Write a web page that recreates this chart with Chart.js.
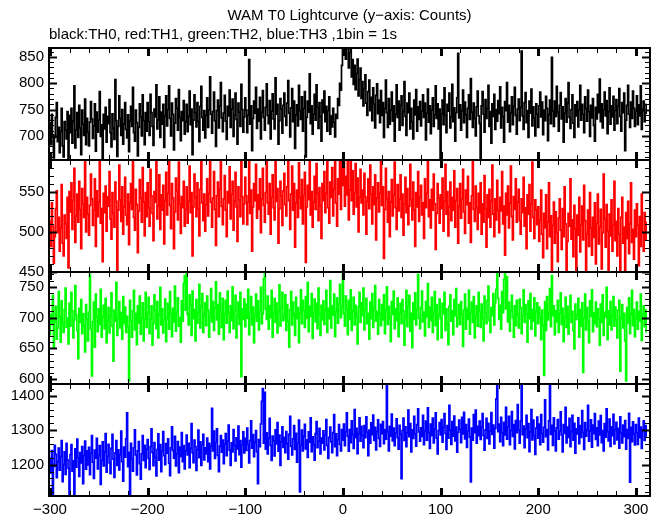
<!DOCTYPE html>
<html>
<head>
<meta charset="utf-8">
<script src="https://cdn.jsdelivr.net/npm/chart.js@4.4.1/dist/chart.umd.min.js"></script>
<style>
  html, body { margin: 0; padding: 0; background: #fff; }
  #wrap { width: 661px; height: 515px; }
</style>
</head>
<body>
<div id="wrap"><canvas id="lcChart" width="661" height="515"></canvas></div>
<script>
// WAM T0 lightcurve, 1 s bins, first bin at T0 - 300 s
const binStart = -300;

// TH0 (black)
const th0Counts = [
  724, 683, 741, 702, 658, 697, 735, 763, 689, 716, 668, 709, 752, 681, 660, 727, 711, 694, 746, 655,
  739, 706, 752, 686, 728, 795, 677, 711, 744, 697, 758, 715, 664, 749, 722, 701, 770, 683, 733, 707,
  681, 726, 765, 732, 695, 719, 761, 671, 745, 707, 730, 784, 699, 721, 652, 741, 713, 754, 688, 737,
  723, 769, 706, 679, 742, 714, 693, 807, 729, 661, 718, 776, 733, 701, 750, 684, 722, 763, 712, 696,
  740, 670, 728, 756, 718, 792, 706, 690, 749, 725, 662, 716, 761, 736, 700, 778, 729, 683, 744, 709,
  763, 727, 701, 779, 744, 718, 682, 751, 736, 797, 713, 730, 774, 697, 745, 722, 760, 678, 738, 776,
  719, 750, 795, 733, 700, 762, 741, 673, 724, 771, 752, 711, 788, 735, 691, 746, 729, 767, 703, 727,
  760, 708, 737, 785, 721, 751, 664, 730, 778, 744, 717, 763, 727, 689, 756, 794, 735, 711, 748, 696,
  739, 772, 716, 749, 812, 741, 705, 746, 783, 729, 680, 748, 768, 715, 757, 801, 734, 708, 743, 777,
  728, 693, 756, 738, 787, 716, 751, 770, 699, 740, 781, 731, 684, 762, 745, 718, 798, 750, 707, 736,
  772, 749, 706, 739, 845, 722, 757, 672, 733, 766, 743, 792, 714, 751, 728, 773, 694, 745, 786, 735,
  711, 754, 799, 739, 723, 767, 694, 747, 780, 732, 713, 810, 741, 760, 684, 729, 771, 751, 705, 758,
  781, 737, 720, 762, 805, 743, 698, 753, 790, 727, 766, 676, 740, 759, 719, 796, 748, 731, 774, 709,
  752, 784, 660, 735, 766, 745, 818, 723, 757, 703, 741, 779, 730, 797, 754, 714, 763, 737, 690, 768,
  744, 785, 727, 756, 709, 748, 774, 703, 738, 717, 752, 726, 698, 741, 733, 771, 758, 800, 787, 834,
  884, 861, 898, 846, 877, 892, 829, 858, 871, 812, 845, 798, 834, 788, 819, 846, 776, 807, 829, 771,
  803, 757, 790, 816, 762, 739, 784, 806, 748, 773, 729, 791, 760, 715, 777, 799, 742, 768, 725, 786,
  739, 763, 697, 752, 806, 744, 716, 771, 722, 749, 783, 728, 757, 690, 741, 797, 735, 766, 711, 758,
  776, 720, 746, 803, 737, 701, 762, 744, 781, 713, 752, 727, 694, 768, 740, 788, 709, 755, 731, 765,
  719, 747, 778, 735, 762, 692, 743, 789, 726, 757, 704, 749, 772, 718, 740, 795, 733, 761, 713, 751,
  652, 742, 768, 721, 791, 739, 706, 760, 747, 781, 715, 736, 798, 727, 753, 690, 744, 772, 857, 734,
  759, 711, 748, 787, 725, 764, 740, 697, 752, 778, 731, 809, 745, 716, 762, 733, 700, 755, 785, 738,
  723, 649, 757, 784, 741, 707, 769, 733, 752, 796, 718, 746, 686, 761, 737, 779, 712, 750, 728, 767,
  742, 793, 715, 754, 736, 688, 765, 748, 801, 726, 758, 708, 743, 774, 721, 756, 792, 739, 703, 751,
  770, 729, 754, 861, 738, 712, 763, 782, 725, 748, 697, 766, 743, 789, 719, 755, 734, 700, 761, 741,
  716, 757, 783, 736, 764, 702, 749, 729, 775, 752, 691, 740, 768, 723, 849, 747, 718, 766, 737, 794,
  745, 709, 758, 782, 732, 755, 688, 743, 771, 726, 762, 801, 735, 714, 750, 778, 724, 697, 759, 738,
  765, 717, 749, 796, 730, 760, 741, 706, 774, 752, 728, 787, 746, 699, 758, 734, 771, 720, 690, 754,
  732, 779, 744, 808, 727, 761, 715, 750, 783, 738, 767, 704, 746, 791, 722, 757, 736, 775, 711, 748,
  769, 723, 756, 790, 737, 709, 763, 744, 781, 672, 730, 758, 796, 741, 716, 764, 733, 785, 752, 718,
  747, 776, 721, 759, 738, 795, 712, 750, 766, 727, 743, 760
];

// TH1 (red)
const th1Counts = [
  513, 482, 536, 507, 461, 494, 529, 551, 499, 518, 476, 505, 559, 486, 470, 521, 510, 492, 543, 455,
  550, 525, 561, 503, 539, 579, 487, 520, 547, 512, 563, 528, 479, 554, 535, 518, 588, 500, 543, 522,
  496, 533, 572, 541, 508, 527, 566, 482, 551, 519, 537, 590, 511, 529, 463, 548, 524, 557, 501, 544,
  532, 575, 516, 491, 549, 523, 506, 562, 538, 450, 527, 583, 540, 513, 556, 497, 531, 568, 521, 509,
  547, 484, 536, 560, 528, 593, 518, 502, 553, 534, 474, 526, 565, 542, 512, 580, 537, 495, 549, 519,
  561, 530, 507, 578, 545, 523, 489, 550, 537, 596, 516, 532, 571, 503, 546, 527, 558, 485, 539, 574,
  521, 548, 595, 533, 504, 560, 542, 479, 525, 567, 551, 515, 587, 535, 498, 544, 530, 563, 507, 528,
  556, 511, 538, 582, 524, 549, 470, 531, 572, 543, 519, 561, 529, 495, 553, 590, 536, 514, 547, 501,
  534, 566, 520, 548, 591, 537, 506, 542, 575, 528, 483, 545, 562, 519, 553, 598, 532, 509, 541, 570,
  527, 494, 550, 536, 581, 516, 547, 563, 502, 538, 574, 531, 488, 556, 540, 519, 589, 544, 510, 535,
  568, 545, 509, 537, 593, 523, 552, 476, 531, 560, 539, 584, 517, 546, 528, 566, 499, 541, 579, 533,
  512, 549, 588, 536, 522, 560, 497, 543, 571, 530, 515, 597, 538, 554, 486, 529, 563, 545, 508, 551,
  573, 534, 520, 556, 600, 539, 503, 547, 582, 527, 560, 481, 536, 552, 518, 586, 543, 529, 565, 510,
  545, 574, 462, 531, 558, 540, 597, 521, 550, 506, 537, 569, 528, 585, 548, 514, 555, 533, 492, 560,
  539, 575, 524, 548, 594, 530, 511, 562, 543, 580, 520, 553, 599, 536, 507, 566, 547, 590, 528, 604,
  558, 601, 532, 569, 546, 596, 515, 552, 607, 539, 576, 522, 549, 585, 531, 567, 500, 543, 578, 536,
  552, 521, 573, 544, 497, 538, 566, 529, 583, 547, 510, 556, 534, 571, 490, 542, 561, 525, 548, 598,
  533, 556, 467, 528, 579, 541, 512, 550, 494, 537, 565, 520, 546, 587, 530, 503, 559, 526, 541, 571,
  518, 547, 496, 535, 568, 524, 554, 509, 532, 584, 540, 515, 562, 527, 482, 549, 531, 575, 513, 543,
  558, 521, 536, 492, 566, 530, 548, 589, 519, 540, 505, 553, 527, 572, 535, 478, 523, 560, 542, 511,
  546, 529, 567, 501, 538, 584, 522, 550, 495, 531, 562, 514, 543, 527, 576, 506, 539, 554, 486, 532,
  560, 517, 541, 578, 525, 498, 552, 534, 569, 511, 536, 487, 545, 592, 528, 513, 557, 530, 503, 548,
  524, 561, 497, 535, 512, 570, 529, 481, 546, 518, 553, 506, 538, 583, 522, 494, 541, 515, 564, 527,
  499, 543, 526, 575, 510, 532, 471, 548, 521, 557, 505, 536, 582, 519, 490, 544, 528, 566, 512, 537,
  553, 514, 497, 541, 524, 568, 507, 530, 479, 546, 522, 559, 501, 535, 587, 518, 492, 540, 527, 509,
  531, 488, 515, 552, 497, 468, 523, 505, 546, 479, 512, 561, 494, 520, 447, 508, 537, 486, 525, 499,
  463, 517, 541, 502, 478, 529, 494, 556, 510, 452, 488, 523, 507, 566, 491, 515, 469, 533, 504, 448,
  521, 496, 543, 475, 509, 532, 490, 558, 514, 444, 497, 527, 482, 549, 505, 471, 518, 493, 536, 460,
  511, 547, 485, 506, 528, 454, 499, 572, 516, 481, 534, 501, 445, 522, 495, 540, 476, 508, 563, 489,
  513, 470, 529, 497, 451, 518, 543, 486, 506, 449, 524, 492, 538, 473, 510, 561, 487, 503, 466, 527,
  494, 535, 508, 458, 519, 482, 547, 500, 476, 524, 491, 512
];

// TH2 (green)
const th2Counts = [
  672, 705, 689, 736, 651, 694, 718, 665, 683, 742, 701, 660, 727, 690, 676, 713, 748, 684, 699, 657,
  723, 686, 741, 711, 667, 696, 752, 704, 679, 633, 715, 692, 729, 674, 706, 687, 644, 721, 698, 662,
  709, 770, 681, 605, 693, 725, 652, 738, 700, 677, 714, 689, 746, 668, 701, 720, 682, 731, 659, 695,
  716, 675, 703, 740, 686, 629, 712, 694, 757, 671, 699, 726, 683, 708, 665, 734, 690, 717, 676, 702,
  685, 597, 728, 695, 668, 711, 744, 680, 707, 656, 719, 691, 735, 673, 700, 724, 662, 697, 741, 684,
  706, 733, 674, 698, 719, 655, 690, 737, 711, 682, 726, 667, 704, 749, 688, 714, 675, 696, 730, 661,
  699, 723, 681, 742, 706, 669, 715, 693, 751, 678, 710, 732, 686, 700, 660, 727, 694, 755, 768, 712,
  771, 705, 688, 737, 720, 671, 743, 698, 713, 662, 729, 691, 708, 754, 683, 717, 739, 676, 702, 724,
  687, 735, 712, 668, 701, 747, 693, 726, 679, 715, 758, 696, 721, 673, 740, 709, 684, 731, 664, 705,
  728, 691, 743, 707, 676, 719, 695, 750, 682, 711, 736, 667, 702, 725, 689, 741, 604, 714, 697, 730,
  685, 722, 699, 746, 672, 709, 734, 688, 717, 659, 703, 738, 694, 727, 680, 712, 749, 690, 706, 763,
  772, 714, 697, 735, 681, 719, 700, 744, 668, 708, 731, 692, 724, 675, 710, 753, 686, 716, 741, 695,
  703, 737, 679, 721, 694, 652, 713, 742, 688, 725, 704, 671, 733, 698, 716, 659, 707, 745, 690, 728,
  711, 684, 734, 699, 757, 677, 718, 702, 739, 666, 709, 730, 693, 723, 682, 748, 705, 671, 720, 696,
  727, 689, 712, 744, 676, 715, 698, 760, 683, 719, 704, 738, 669, 709, 732, 691, 722, 754, 700, 717,
  770, 706, 686, 735, 714, 672, 728, 697, 745, 679, 711, 733, 688, 720, 701, 657, 717, 741, 692, 724,
  703, 748, 680, 713, 731, 690, 707, 665, 725, 698, 739, 684, 716, 752, 694, 710, 673, 729, 705, 687,
  721, 696, 737, 674, 712, 750, 689, 718, 700, 661, 726, 705, 743, 682, 714, 695, 732, 669, 708, 723,
  690, 729, 711, 655, 702, 744, 685, 719, 736, 678, 707, 651, 724, 697, 740, 688, 713, 770, 699, 682,
  716, 743, 693, 709, 670, 726, 701, 755, 684, 717, 695, 733, 676, 710, 742, 687, 721, 664, 704, 730,
  698, 667, 723, 706, 741, 679, 714, 690, 656, 718, 737, 694, 711, 672, 729, 703, 747, 685, 700, 721,
  689, 726, 705, 653, 712, 738, 681, 715, 697, 744, 673, 708, 725, 692, 734, 667, 702, 719, 686, 741,
  710, 684, 722, 699, 662, 735, 707, 690, 728, 751, 695, 676, 716, 703, 739, 688, 724, 746, 771, 731,
  697, 720, 681, 742, 708, 762, 773, 714, 766, 693, 725, 678, 711, 736, 700, 668, 719, 687, 728, 705,
  683, 730, 716, 674, 703, 745, 692, 721, 706, 660, 727, 698, 739, 681, 713, 694, 732, 670, 709, 724,
  690, 717, 701, 664, 712, 688, 606, 726, 679, 734, 696, 708, 747, 685, 768, 703, 719, 672, 711, 693,
  728, 676, 707, 740, 689, 715, 661, 700, 733, 684, 718, 673, 705, 736, 692, 710, 679, 649, 722, 697,
  704, 731, 668, 713, 686, 724, 611, 699, 738, 680, 716, 693, 659, 727, 702, 745, 677, 708, 690, 725,
  685, 714, 698, 655, 722, 692, 737, 671, 709, 701, 749, 664, 711, 688, 726, 680, 703, 734, 686, 717,
  696, 667, 712, 728, 613, 700, 721, 683, 707, 662, 597, 716, 691, 732, 674, 705, 744, 687, 713, 669,
  699, 725, 681, 710, 694, 738, 663, 706, 719, 685, 712, 676
];

// TH3 (blue)
const th3Counts = [
  1218, 1176, 1241, 1105, 1195, 1256, 1230, 1162, 1209, 1248, 1184, 1223, 1270, 1151, 1200, 1237, 1172, 1262, 1214, 1189,
  1102, 1229, 1258, 1181, 1211, 1110, 1246, 1193, 1274, 1220, 1166, 1235, 1205, 1252, 1145, 1226, 1268, 1187, 1240, 1199,
  1250, 1171, 1233, 1284, 1207, 1160, 1242, 1219, 1276, 1188, 1227, 1255, 1143, 1212, 1266, 1196, 1237, 1290, 1178, 1224,
  1259, 1205, 1174, 1247, 1288, 1216, 1163, 1234, 1270, 1198, 1243, 1185, 1229, 1297, 1209, 1152, 1251, 1222, 1275, 1350,
  1194, 1236, 1108, 1262, 1215, 1181, 1249, 1301, 1228, 1170, 1240, 1267, 1203, 1158, 1231, 1284, 1212, 1256, 1191, 1245,
  1273, 1218, 1186, 1252, 1304, 1235, 1197, 1264, 1221, 1167, 1244, 1289, 1213, 1258, 1180, 1239, 1296, 1226, 1200, 1261,
  1233, 1275, 1204, 1168, 1249, 1310, 1241, 1219, 1282, 1196, 1232, 1267, 1177, 1251, 1224, 1293, 1209, 1255, 1188, 1240,
  1286, 1228, 1262, 1191, 1247, 1319, 1235, 1206, 1271, 1252, 1183, 1243, 1300, 1220, 1266, 1198, 1257, 1288, 1214, 1249,
  1231, 1277, 1209, 1262, 1188, 1253, 1363, 1240, 1297, 1218, 1265, 1304, 1227, 1180, 1254, 1284, 1236, 1271, 1203, 1259,
  1290, 1226, 1268, 1315, 1242, 1198, 1263, 1237, 1302, 1255, 1211, 1278, 1246, 1312, 1229, 1270, 1193, 1257, 1295, 1234,
  1276, 1241, 1306, 1259, 1205, 1270, 1327, 1248, 1287, 1223, 1264, 1299, 1238, 1145, 1273, 1252, 1318, 1384, 1421, 1262,
  1410, 1245, 1292, 1231, 1276, 1334, 1256, 1212, 1283, 1269, 1225, 1301, 1260, 1322, 1239, 1286, 1198, 1266, 1310, 1250,
  1279, 1235, 1296, 1261, 1216, 1288, 1340, 1254, 1228, 1275, 1313, 1244, 1291, 1207, 1262, 1329, 1121, 1257, 1300, 1240,
  1283, 1317, 1246, 1272, 1221, 1295, 1265, 1336, 1238, 1281, 1258, 1213, 1290, 1325, 1249, 1268, 1305, 1231, 1277, 1262,
  1298, 1243, 1286, 1331, 1256, 1218, 1279, 1309, 1267, 1235, 1293, 1345, 1252, 1289, 1226, 1273, 1316, 1259, 1240, 1302,
  1271, 1318, 1255, 1296, 1350, 1283, 1239, 1302, 1264, 1327, 1287, 1247, 1360, 1278, 1305, 1232, 1290, 1336, 1268, 1311,
  1285, 1249, 1313, 1278, 1339, 1294, 1226, 1300, 1262, 1321, 1287, 1344, 1270, 1308, 1243, 1296, 1330, 1276, 1253, 1317,
  1290, 1325, 1261, 1302, 1274, 1433, 1296, 1240, 1311, 1283, 1347, 1269, 1306, 1255, 1292, 1333, 1278, 1245, 1314, 1288,
  1159, 1299, 1335, 1270, 1310, 1252, 1292, 1358, 1281, 1319, 1237, 1301, 1276, 1340, 1289, 1254, 1316, 1362, 1295, 1268,
  1307, 1282, 1343, 1258, 1298, 1326, 1271, 1365, 1293, 1247, 1318, 1284, 1335, 1263, 1304, 1350, 1277, 1231, 1299, 1322,
  1286, 1331, 1265, 1308, 1348, 1291, 1244, 1313, 1277, 1372, 1300, 1259, 1325, 1283, 1341, 1269, 1309, 1236, 1294, 1329,
  1303, 1264, 1337, 1289, 1352, 1275, 1316, 1250, 1298, 1332, 1280, 1150, 1306, 1271, 1345, 1293, 1358, 1262, 1311, 1284,
  1326, 1273, 1309, 1348, 1285, 1242, 1301, 1334, 1276, 1320, 1260, 1297, 1351, 1288, 1315, 1248, 1305, 1390, 1431, 1296,
  1318, 1267, 1337, 1292, 1255, 1323, 1286, 1366, 1274, 1310, 1340, 1258, 1299, 1354, 1282, 1316, 1246, 1328, 1293, 1374,
  1300, 1262, 1326, 1433, 1287, 1312, 1249, 1303, 1343, 1278, 1319, 1238, 1295, 1360, 1272, 1329, 1284, 1230, 1306, 1338,
  1277, 1318, 1258, 1345, 1290, 1265, 1308, 1388, 1281, 1302, 1243, 1327, 1432, 1288, 1314, 1256, 1336, 1298, 1240, 1307,
  1331, 1274, 1297, 1353, 1286, 1237, 1316, 1291, 1366, 1263, 1309, 1279, 1334, 1252, 1296, 1343, 1271, 1320, 1233, 1304,
  1289, 1336, 1261, 1313, 1279, 1357, 1294, 1244, 1322, 1283, 1301, 1372, 1268, 1297, 1330, 1251, 1315, 1290, 1348, 1273,
  1307, 1255, 1326, 1286, 1342, 1264, 1299, 1240, 1319, 1280, 1362, 1295, 1269, 1332, 1253, 1310, 1284, 1346, 1260, 1301,
  1323, 1272, 1305, 1248, 1339, 1292, 1263, 1315, 1281, 1328, 1245, 1302, 1276, 1349, 1149, 1308, 1267, 1324, 1290, 1257,
  1316, 1293, 1259, 1335, 1278, 1309, 1247, 1301, 1327, 1270, 1313, 1282
];

// tick labels
const xTicks = [-300, -200, -100, 0, 100, 200, 300];
const th0Ticks = [700, 750, 800, 850];
const th1Ticks = [450, 500, 550];
const th2Ticks = [600, 650, 700, 750];
const th3Ticks = [1200, 1300, 1400];

// panels, top to bottom
const panels = [
  { id: 'yTH0', counts: th0Counts, ticks: th0Ticks, color: '#000000', min: 654, max: 867, minor: 10 },
  { id: 'yTH1', counts: th1Counts, ticks: th1Ticks, color: '#ff0000', min: 450, max: 589.5, minor: 10 },
  { id: 'yTH2', counts: th2Counts, ticks: th2Ticks, color: '#00ff00', min: 592, max: 774, minor: 10 },
  { id: 'yTH3', counts: th3Counts, ticks: th3Ticks, color: '#0000ff', min: 1109, max: 1434, minor: 20 }
];

const minus = v => String(v).replace('-', '\u2212');

Chart.defaults.font.family = '"Liberation Sans", Arial, Helvetica, sans-serif';
Chart.defaults.font.size = 15;
Chart.defaults.color = '#000';

// inward tick marks + frame around each panel (PGPLOT look)
const frameTicks = {
  id: 'frameTicks',
  afterDatasetsDraw(chart) {
    const ctx = chart.ctx;
    const xs = chart.scales.x;
    const seg = (x1, y1, x2, y2) => { ctx.beginPath(); ctx.moveTo(x1, y1); ctx.lineTo(x2, y2); ctx.stroke(); };
    ctx.save();
    ctx.strokeStyle = '#000';
    panels.forEach(p => {
      const ys = chart.scales[p.id];
      for (let v = Math.ceil(xs.min / 20) * 20; v <= xs.max; v += 20) {
        const px = Math.round(xs.getPixelForValue(v)) + 0.5;
        const major = v % 100 === 0;
        const len = major ? 8 : 5;
        ctx.lineWidth = major ? 3 : 1;
        seg(px, ys.top, px, ys.top + len);
        seg(px, ys.bottom, px, ys.bottom - len);
      }
      for (let v = Math.ceil(ys.min / p.minor) * p.minor; v <= ys.max; v += p.minor) {
        const py = Math.round(ys.getPixelForValue(v)) + 0.5;
        const major = p.ticks.includes(v);
        ctx.lineWidth = major ? 2 : 1;
        seg(xs.left, py, xs.left + (major ? 8 : 5), py);
        seg(xs.right, py, xs.right - (major ? 8 : 5), py);
      }
      ctx.lineWidth = 2;
      ctx.strokeRect(xs.left, ys.top, xs.right - xs.left, ys.bottom - ys.top);
    });
    ctx.restore();
  }
};

const scales = {
  x: {
    type: 'linear',
    position: 'bottom',
    min: -301,
    max: 314.4,
    grid: { display: false, drawTicks: false },
    border: { display: false },
    ticks: { padding: 5, maxRotation: 0, autoSkip: false, callback: minus },
    afterBuildTicks: s => { s.ticks = xTicks.map(v => ({ value: v })); },
    afterFit: s => { s.height = 19; }
  }
};
// the last registered axis ends up on top of the stack
panels.slice().reverse().forEach((p, i) => {
  scales[p.id] = {
    type: 'linear',
    position: 'left',
    stack: 'lc',
    stackWeight: 1,
    weight: i + 1,
    min: p.min,
    max: p.max,
    grid: { display: false, drawTicks: false },
    border: { display: false },
    ticks: { padding: 5, autoSkip: false, callback: minus },
    afterBuildTicks: s => { s.ticks = p.ticks.map(v => ({ value: v })); },
    afterFit: s => { s.width = 49; }
  };
});

new Chart(document.getElementById('lcChart'), {
  type: 'line',
  data: {
    datasets: panels.map(p => ({
      label: p.id,
      data: p.counts.map((c, i) => ({ x: binStart + i, y: c })),
      xAxisID: 'x',
      yAxisID: p.id,
      borderColor: p.color,
      borderWidth: 1.7,
      pointRadius: 0,
      stepped: 'middle',
      fill: false
    }))
  },
  options: {
    responsive: false,
    animation: false,
    layout: { padding: { left: 0, right: 11, top: 0, bottom: 0 } },
    plugins: {
      legend: { display: false },
      tooltip: { enabled: false },
      title: {
        display: true,
        text: 'WAM T0 Lightcurve (y\u2212axis: Counts)',
        fullSize: false,
        align: 'center',
        font: { size: 15, weight: 'normal' },
        padding: { top: 7, bottom: 0 }
      },
      subtitle: {
        display: true,
        text: 'black:TH0, red:TH1, green:TH2, blue:TH3 ,1bin = 1s',
        fullSize: false,
        align: 'start',
        font: { size: 15, weight: 'normal' },
        padding: { top: 1, bottom: 4 }
      }
    },
    scales: scales
  },
  plugins: [frameTicks]
});
</script>
</body>
</html>
